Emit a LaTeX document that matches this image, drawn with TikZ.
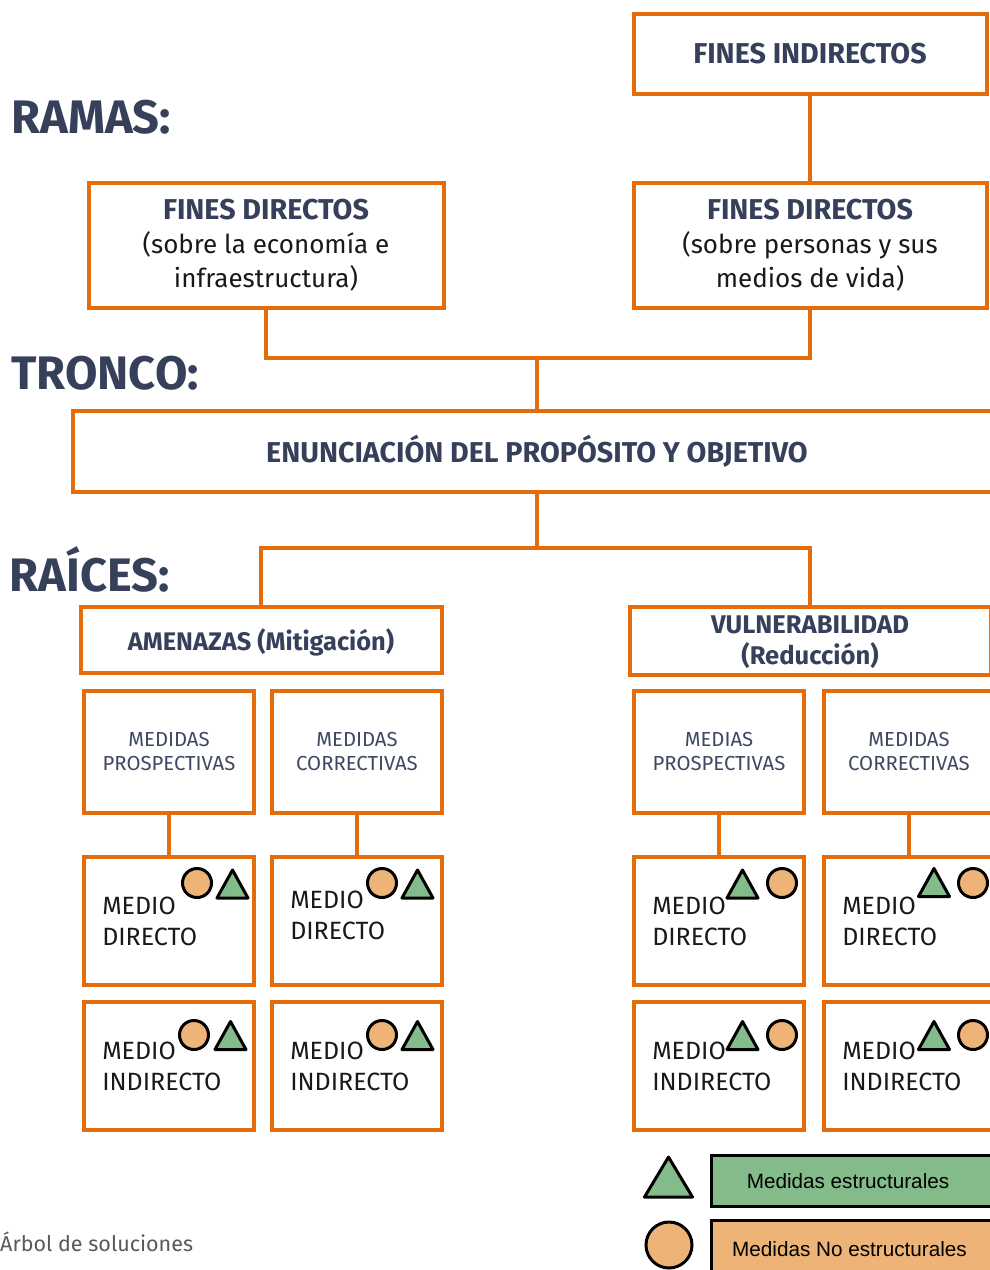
\documentclass[tikz,border=0pt]{standalone}
\usepackage{fontspec}
\setmainfont{Fira Sans}
\newfontfamily\legendfont{Liberation Sans}
\usetikzlibrary{positioning}

\definecolor{orng}{HTML}{E46C0A}
\definecolor{navy}{HTML}{37405B}
\definecolor{softnavy}{HTML}{3F4862}
\definecolor{capgray}{HTML}{595959}
\definecolor{estrfill}{HTML}{83BB8A}
\definecolor{noestrfill}{HTML}{EDB377}

\tikzset{
  box/.style={draw=orng, line width=4pt, fill=white, align=center, inner sep=0pt, text=navy},
  link/.style={draw=orng, line width=4pt},
  level/.style={anchor=base west, text=navy, font=\fontsize{47}{50}\selectfont\bfseries},
  head/.style={font=\fontsize{28.7}{33}\selectfont\bfseries},
  finebox/.style={box, minimum height=125pt, font=\fontsize{26}{34}\selectfont},
  medbox/.style={box, minimum width=170.5pt, minimum height=122pt, text=softnavy,
    font=\fontsize{20.3}{24}\selectfont},
  mediobox/.style={box, minimum height=127.5pt, text width=133.5pt, inner xsep=18.5pt,
    align=left, text=black!90, font=\fontsize{25}{31}\selectfont},
  plain/.style={},
  lifted/.style={text depth=43.5pt},
  estrmark/.style={draw=black, line width=3pt, fill=estrfill, line join=round},
  noestrmark/.style={draw=black, line width=3pt, fill=noestrfill},
  legbox/.style={draw=black, line width=3pt, minimum width=300pt, minimum height=51pt, anchor=west},
  legtext/.style={font=\legendfont\fontsize{20.7}{22}\selectfont, text=black}
}

% structural / non structural marks
\newcommand{\estr}[4]{\draw[estrmark] (#1-#3,#2+#4) -- (#1+#3,#2+#4) -- (#1,#2-#4) -- cycle;}
\newcommand{\noestr}[3]{\draw[noestrmark] (#1,#2) circle (#3);}
\newcommand{\finehead}{\fontsize{28.7}{34}\selectfont\bfseries}
\newcommand{\finebody}{\fontsize{26}{34}\selectfont\mdseries\color{black!90}}

\begin{document}
\begin{tikzpicture}[x=1pt, y=-1pt]
  \useasboundingbox (0,0) rectangle (990,1270);
  \clip (0,0) rectangle (990,1270);

  % Levels
  \node[level] (ramas) at (8,133) {RAMAS:};
  \node[level] (tronco) at (8,389) {TRONCO:};
  \node[level] (raices) at (6,591) {RAÍCES:};

  % Branches
  \node[box, head, minimum width=353pt, minimum height=80pt] (fi) at (810,53.5) {FINES INDIRECTOS};
  \node[finebox, minimum width=353pt] (fdr) at (810,245)
    {\finehead FINES DIRECTOS\\ \finebody (sobre personas y sus\\ \finebody medios de vida)};
  \node[finebox, minimum width=355pt] (fdl) at (266,245)
    {\finehead FINES DIRECTOS\\ \finebody (sobre la economía e\\ \finebody infraestructura)};

  % Trunk
  \node[box, head, minimum width=929pt, minimum height=81pt] (enun) at (537,451)
    {ENUNCIACIÓN DEL PROPÓSITO Y OBJETIVO};
  \coordinate (jtop) at (537,358);
  \draw[link] (fi.south) -- (fdr.north);
  \draw[link] (fdl.south) |- (jtop) -| (fdr.south);
  \draw[link] (jtop) -- (enun.north);

  % Roots
  \node[box, minimum width=361pt, minimum height=66pt, text depth=0pt,
    font=\fontsize{25.4}{31}\selectfont\bfseries] (amen) at (261,639.5) {AMENAZAS (Mitigación)};
  \node[box, minimum width=361pt, minimum height=68pt, text depth=0pt,
    font=\fontsize{25.6}{31}\selectfont\bfseries] (vuln) at (810,640.5) {VULNERABILIDAD\\(Reducción)};
  \coordinate (jbot) at (537,548);
  \draw[link] (enun.south) -- (jbot);
  \draw[link] (amen.north) |- (jbot) -| (vuln.north);

  \foreach \x/\n/\t/\u/\o in {169/a1/MEDIDAS/PROSPECTIVAS/plain, 357/a2/MEDIDAS/CORRECTIVAS/lifted,
                              719/v1/MEDIAS/PROSPECTIVAS/plain, 909/v2/MEDIDAS/CORRECTIVAS/plain} {
    \node[medbox] (med\n) at (\x,751.5) {\t\\\u};
    \node[mediobox, \o] (dir\n) at (\x,921) {MEDIO\\DIRECTO};
    \node[mediobox] (ind\n) at (\x,1066) {MEDIO\\INDIRECTO};
    \draw[link] (med\n.south) -- (dir\n.north);
  }

  % marks on the means
  \noestr{197}{883}{14.5}   \estr{232.5}{884}{15.5}{14}
  \noestr{382}{883}{14.5}   \estr{417.5}{884}{15.5}{14}
  \noestr{194}{1035}{14.5}  \estr{230.5}{1035.5}{15.5}{14}
  \noestr{382}{1035}{14.5}  \estr{417.5}{1035.5}{15.5}{14}
  \estr{742.5}{884}{15.5}{14}    \noestr{782}{883}{14.5}
  \estr{934}{882.5}{15.5}{14}    \noestr{973}{883}{14.5}
  \estr{742.5}{1035.5}{15.5}{14} \noestr{782}{1035}{14.5}
  \estr{934}{1035.5}{15.5}{14}   \noestr{973}{1035}{14.5}

  % Legend
  \estr{668.5}{1177}{24}{20}
  \noestr{669}{1245}{23}
  \node[legbox, fill=estrfill] (legestr) at (709.5,1181) {};
  \node[legbox, fill=noestrfill] (legnoestr) at (709.5,1246) {};
  \node[legtext] (txtestr) at (848,1181) {Medidas estructurales};
  \node[legtext] (txtnoestr) at (849.5,1249) {Medidas No estructurales};

  % Caption
  \node[anchor=base west, text=capgray, font=\fontsize{21.5}{24}\selectfont, inner sep=0pt] (caption)
    at (0,1251) {Árbol de soluciones};
\end{tikzpicture}
\end{document}
